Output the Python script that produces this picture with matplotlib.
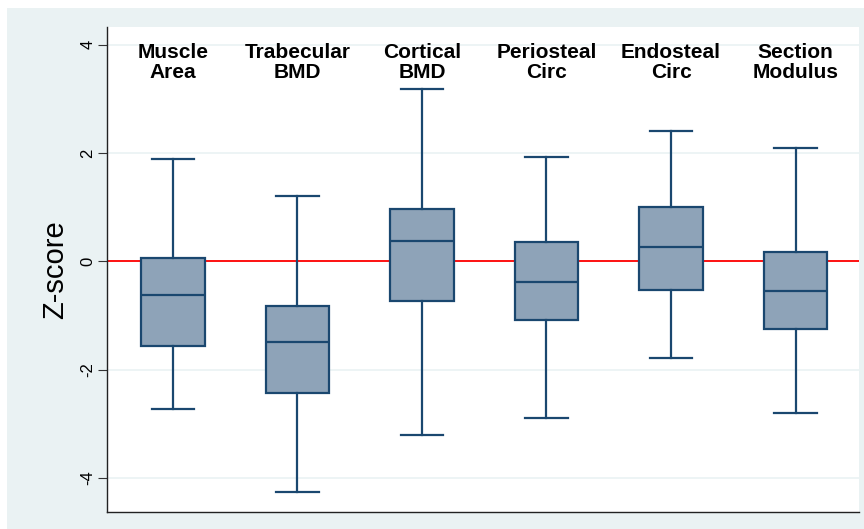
"""
Box plots of bone and muscle Z-scores (Stata-style look).
"""

import matplotlib
matplotlib.use("Agg")
import matplotlib.pyplot as plt
from matplotlib.patches import Rectangle

plt.rcParams['font.family'] = ['Liberation Sans', 'DejaVu Sans']

# values
labels = ["Muscle\nArea", "Trabecular\nBMD", "Cortical\nBMD",
          "Periosteal\nCirc", "Endosteal\nCirc", "Section\nModulus"]
whisker_high = [1.90, 1.20, 3.19, 1.92, 2.41, 2.10]
q3 = [0.07, -0.83, 0.96, 0.35, 1.01, 0.17]
median = [-0.63, -1.49, 0.37, -0.39, 0.26, -0.55]
q1 = [-1.57, -2.43, -0.74, -1.09, -0.52, -1.24]
whisker_low = [-2.73, -4.26, -3.21, -2.89, -1.79, -2.80]
y_ticks = [-4, -2, 0, 2, 4]

NAVY = "#1a476f"
FILL = "#8ea3b8"
BG = "#eaf2f3"


def build_stats():
    stats = []
    for i in range(len(labels)):
        stats.append({
            "whislo": whisker_low[i], "q1": q1[i], "med": median[i],
            "q3": q3[i], "whishi": whisker_high[i], "fliers": [],
        })
    return stats


def main():
    fig = plt.figure(figsize=(8.64, 5.29), dpi=100, facecolor="white")
    # light blue outer region like the Stata graph region
    fig.patches.append(Rectangle((7 / 864, 0), 1, 521 / 529,
                                 transform=fig.transFigure,
                                 facecolor=BG, edgecolor="none", zorder=0))
    ax = fig.add_axes([107 / 864, 17 / 529, 752 / 864, 485 / 529])
    ax.set_zorder(2)
    ax.set_facecolor("white")

    positions = list(range(1, len(labels) + 1))
    ax.axhline(0, color="red", lw=1.3, zorder=1)
    ax.bxp(build_stats(), positions=positions, widths=0.51,
           patch_artist=True, showfliers=False, capwidths=0.34,
           boxprops=dict(facecolor=FILL, edgecolor=NAVY, linewidth=1.6),
           medianprops=dict(color=NAVY, linewidth=1.6),
           whiskerprops=dict(color=NAVY, linewidth=1.6),
           capprops=dict(color=NAVY, linewidth=1.6), zorder=3)

    for x, lab in zip(positions, labels):
        ax.text(x, 4.04, lab, ha="center", va="top", fontsize=15,
                fontweight="bold", linespacing=1.06, zorder=4)

    ax.set_xlim(0.47, 6.51)
    ax.set_ylim(-4.63, 4.33)
    ax.set_yticks(y_ticks)
    ax.set_yticklabels([str(t) for t in y_ticks], rotation=90,
                       va="center", fontsize=12)
    ax.set_xticks([])
    ax.grid(axis="y", color=BG, lw=1.2, zorder=0)
    ax.set_axisbelow(True)
    ax.tick_params(axis="y", length=6.5, color="#333333", pad=2)
    ax.set_ylabel("Z-score", fontsize=21, labelpad=8)
    for side in ["top", "right"]:
        ax.spines[side].set_visible(False)
    for side in ["left", "bottom"]:
        ax.spines[side].set_color("#222222")
        ax.spines[side].set_linewidth(1.0)

    fig.savefig("out.png", dpi=100, facecolor=fig.get_facecolor())


if __name__ == "__main__":
    main()
